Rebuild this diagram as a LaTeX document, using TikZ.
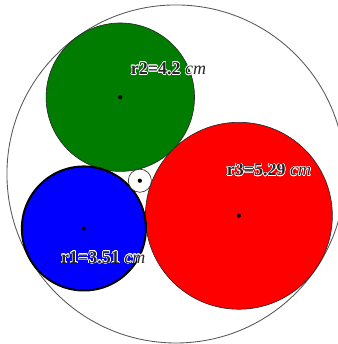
\documentclass[tikz,border=0pt]{standalone}
\usepackage{fontspec}
\setmainfont{Liberation Serif}
\usepackage{contour}
\contourlength{0.9pt}
\usetikzlibrary{calc}
\definecolor{ggbgreen}{RGB}{0,125,0}
\begin{document}
\begin{tikzpicture}[
    disk/.style={draw=black!85, line width=1pt},
    centre/.style={fill=black},
    label/.style={font=\fontsize{29}{35}\selectfont\bfseries, text=black!85, inner sep=0pt}
  ]
    \useasboundingbox (-6.808,-13.967) rectangle (12.32,5.501);
    \clip (-6.808,-13.967) rectangle (12.32,5.501);

    % centres
    \coordinate (green) at (0,0);
    \coordinate (red) at (-45:9.49);
    \coordinate (blue) at (-105.5:7.71);
    \coordinate (inner) at (1.1071,-4.7263);
    \coordinate (outer) at (3.1501,-4.3444);

    % outer circle
    \draw[line width=1.4pt, draw=black!65] (outer) circle (9.5655);

    % three circles
    \draw[disk, fill=ggbgreen] (green) circle (4.2);
    \draw[disk, fill=red] (red) circle (5.29);
    \draw[fill=blue, draw=black, line width=3.2pt] (blue) circle (3.51);

    % inner circle
    \draw[disk, fill=white] (inner) circle (0.6542);

    % tangent points
    \coordinate (tbg) at ($(blue)!3.51cm!(green)$);
    \coordinate (tbr) at ($(blue)!3.51cm!(red)$);
    \fill (tbg) circle (0.09);
    \fill (tbr) circle (0.09);

    % centre dots
    \foreach \c in {green,red,blue,inner}
      \fill[centre] (\c) circle (0.12);

    % labels
    \node[label] (lab2) at (2.73,1.60) {\contour{white}{r2=4.2 \textnormal{\itshape cm}}};
    \node[label] (lab3) at (8.41,-4.12) {\contour{white}{r3=5.29 \textnormal{\itshape cm}}};
    \node[label] (lab1) at (-0.96,-9.09) {\contour{white}{r1=3.51 \textnormal{\itshape cm}}};
  \end{tikzpicture}
\end{document}
